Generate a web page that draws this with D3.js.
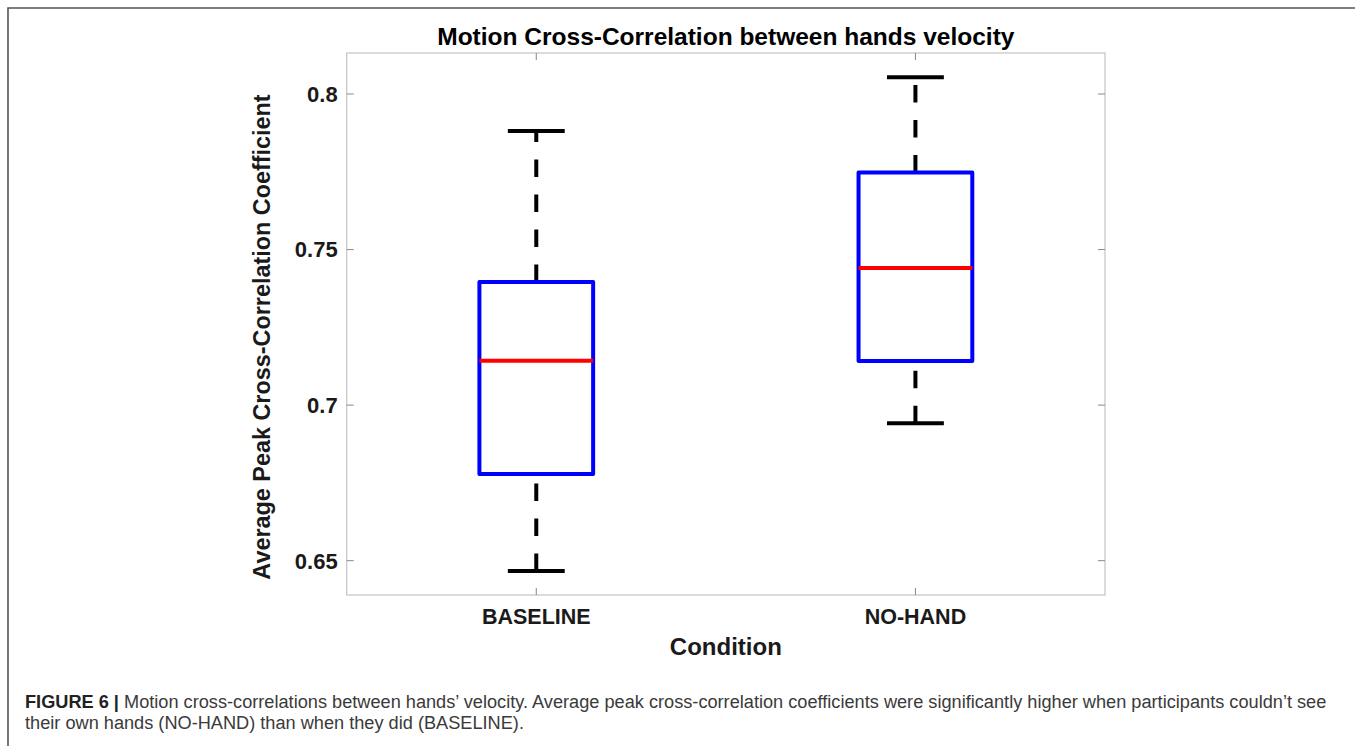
<!DOCTYPE html>
<html><head><meta charset="utf-8">
<script src="https://cdn.jsdelivr.net/npm/d3@7"></script>
<style>
html,body{margin:0;padding:0;background:#fff;}
svg{display:block;}
</style></head>
<body>
<script>
// ---- data ----
const categories = ["BASELINE", "NO-HAND"];
const lowerWhisker = [0.6467, 0.6942];
const q1 = [0.6779, 0.7142];
const medians = [0.7143, 0.7441];
const q3 = [0.7396, 0.7748];
const upperWhisker = [0.7881, 0.8054];
const yTicks = [0.65, 0.7, 0.75, 0.8];
const titleText = "Motion Cross-Correlation between hands velocity";
const yLabel = "Average Peak Cross-Correlation Coefficient";
const xLabel = "Condition";
const captionBold = "FIGURE 6 |";
const captionLines = [
  " Motion cross-correlations between hands\u2019 velocity. Average peak cross-correlation coefficients were significantly higher when participants couldn\u2019t see",
  "their own hands (NO-HAND) than when they did (BASELINE)."
];

const W = 1355, H = 746;
const svg = d3.select("body").append("svg").attr("width", W).attr("height", H);

// outer frame
svg.append("path").attr("d", `M8,${H} L8,8 L${W},8`)
  .attr("fill", "none").attr("stroke", "#555").attr("stroke-width", 1.6);

const plot = {left: 346.7, right: 1105, top: 53, bottom: 595};
const x = d3.scaleLinear().domain([0.5, 2.5]).range([plot.left, plot.right]);
const y = d3.scaleLinear().domain([0.63897, 0.81318]).range([plot.bottom, plot.top]);

const font = "'Liberation Sans', Arial, Helvetica, sans-serif";

// axes box
const axG = svg.append("g");
axG.append("rect").attr("x", plot.left).attr("y", plot.top)
  .attr("width", plot.right - plot.left).attr("height", plot.bottom - plot.top)
  .attr("fill", "none").attr("stroke", "#c4c4c4").attr("stroke-width", 1.2);

const tickLen = 7;
yTicks.forEach(t => {
  axG.append("line").attr("x1", plot.left).attr("x2", plot.left + tickLen)
    .attr("y1", y(t)).attr("y2", y(t)).attr("stroke", "#888").attr("stroke-width", 1);
  axG.append("line").attr("x1", plot.right).attr("x2", plot.right - tickLen)
    .attr("y1", y(t)).attr("y2", y(t)).attr("stroke", "#888").attr("stroke-width", 1);
});
categories.forEach((c, i) => {
  axG.append("line").attr("x1", x(i + 1)).attr("x2", x(i + 1))
    .attr("y1", plot.bottom).attr("y2", plot.bottom - tickLen).attr("stroke", "#888").attr("stroke-width", 1);
  axG.append("line").attr("x1", x(i + 1)).attr("x2", x(i + 1))
    .attr("y1", plot.top).attr("y2", plot.top + tickLen).attr("stroke", "#888").attr("stroke-width", 1);
});

// y tick labels
svg.append("g").selectAll("text").data(yTicks).join("text")
  .attr("x", plot.left - 9).attr("y", d => y(d)).attr("dy", "0.36em")
  .attr("text-anchor", "end").attr("font-family", font).attr("font-weight", "bold")
  .attr("font-size", 22).attr("fill", "#1a1a1a").text(d => String(d));

// x tick labels
svg.append("g").selectAll("text").data(categories).join("text")
  .attr("x", (d, i) => x(i + 1)).attr("y", 624)
  .attr("text-anchor", "middle").attr("font-family", font).attr("font-weight", "bold")
  .attr("font-size", 21.5).attr("fill", "#1a1a1a").text(d => d);

// boxes
const boxHalf = 0.15, capHalf = 0.075;
const g = svg.append("g");
categories.forEach((c, i) => {
  const cx = x(i + 1);
  [[lowerWhisker[i], q1[i]], [q3[i], upperWhisker[i]]].forEach(([a, b]) => {
    g.append("line").attr("x1", cx).attr("x2", cx).attr("y1", y(a)).attr("y2", y(b))
      .attr("stroke", "#000").attr("stroke-width", 4).attr("stroke-dasharray", "17.5,17.5");
  });
  [lowerWhisker[i], upperWhisker[i]].forEach(v => {
    g.append("line").attr("x1", x(i + 1 - capHalf)).attr("x2", x(i + 1 + capHalf))
      .attr("y1", y(v)).attr("y2", y(v)).attr("stroke", "#000").attr("stroke-width", 4);
  });
  g.append("rect").attr("x", x(i + 1 - boxHalf)).attr("y", y(q3[i]))
    .attr("width", x(i + 1 + boxHalf) - x(i + 1 - boxHalf)).attr("height", y(q1[i]) - y(q3[i]))
    .attr("fill", "none").attr("stroke", "#0000ff").attr("stroke-width", 4)
    .attr("stroke-linejoin", "round");
  g.append("line").attr("x1", x(i + 1 - boxHalf)).attr("x2", x(i + 1 + boxHalf))
    .attr("y1", y(medians[i])).attr("y2", y(medians[i]))
    .attr("stroke", "#ff0000").attr("stroke-width", 4);
});

// title
svg.append("text").attr("x", (plot.left + plot.right) / 2).attr("y", 45)
  .attr("text-anchor", "middle").attr("font-family", font).attr("font-weight", "bold")
  .attr("font-size", 24.5).attr("fill", "#000").text(titleText);

// y label
svg.append("text").attr("transform", `translate(270,${(plot.top + plot.bottom) / 2 + 13}) rotate(-90)`)
  .attr("text-anchor", "middle").attr("font-family", font).attr("font-weight", "bold")
  .attr("font-size", 23.4).attr("fill", "#1a1a1a").text(yLabel);

// x label
svg.append("text").attr("x", (plot.left + plot.right) / 2).attr("y", 655)
  .attr("text-anchor", "middle").attr("font-family", font).attr("font-weight", "bold")
  .attr("font-size", 24).attr("fill", "#1a1a1a").text(xLabel);

// caption: fit first line to the reference width
const cap = svg.append("g").attr("font-family", font).attr("fill", "#3a3a3a");
const l1 = cap.append("text").attr("x", 25).attr("y", 708).attr("font-size", 15);
l1.append("tspan").attr("font-weight", "bold").attr("fill", "#222").text(captionBold);
l1.append("tspan").text(captionLines[0]);
const w15 = l1.node().getComputedTextLength();
const capSize = 15 * 1302 / w15;
l1.attr("font-size", capSize);
cap.append("text").attr("x", 25).attr("y", 729).attr("font-size", capSize).text(captionLines[1]);
</script>
</body></html>
